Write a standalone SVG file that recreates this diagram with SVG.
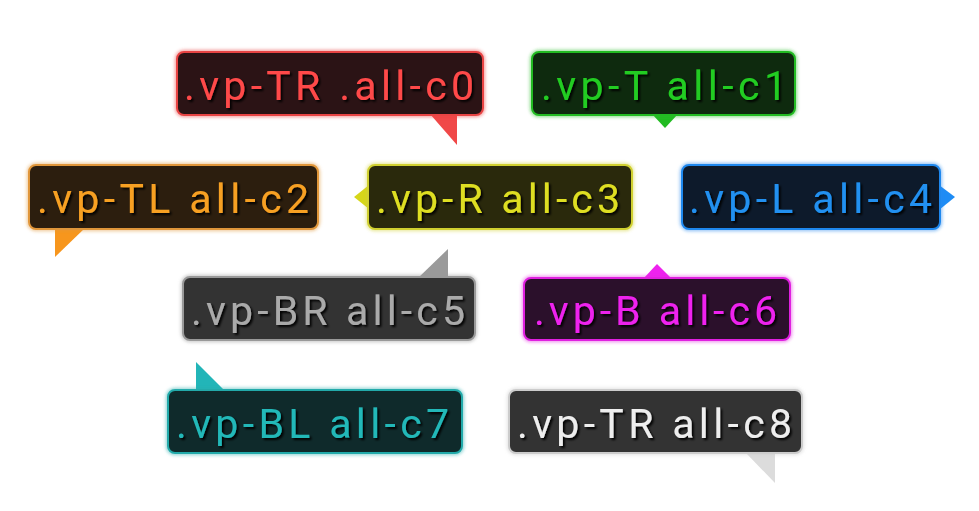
<svg xmlns="http://www.w3.org/2000/svg" width="979" height="511" viewBox="0 0 979 511">
<defs>
<filter id="ts" x="-10%" y="-30%" width="120%" height="160%">
<feDropShadow dx="2" dy="2" stdDeviation="1.2" flood-color="#000" flood-opacity="0.95"/>
</filter>
<filter id="glow" x="-10%" y="-20%" width="120%" height="140%">
<feGaussianBlur stdDeviation="1.5"/>
</filter>
</defs>
<style>
.lbl{font-family:Roboto,"Liberation Sans",sans-serif;font-size:41px;filter:url(#ts)}
.halo{fill:none;stroke-width:5;stroke-opacity:0.45;filter:url(#glow)}
.box{stroke-width:2}
</style>
<rect width="979" height="511" fill="#fff"/>
<g id="connectors"></g>

<g id="c0">
<polygon points="430,114 457,114 457,145" fill="#f04848"/>
<rect class="halo" x="177" y="52" width="306" height="63" rx="7" stroke="#e84444"/>
<rect class="box" x="177" y="52" width="306" height="63" rx="7" fill="#2b1315" stroke="#e84444"/>
<text class="lbl" x="184" y="100" fill="#ff4a4a" textLength="290" lengthAdjust="spacing">.vp-TR .all-c0</text>
</g>

<g id="c1">
<polygon points="652,114 678,114 665,128" fill="#22bb22"/>
<rect class="halo" x="532" y="52" width="263" height="63" rx="7" stroke="#22bb22"/>
<rect class="box" x="532" y="52" width="263" height="63" rx="7" fill="#0e2a0e" stroke="#22bb22"/>
<text class="lbl" x="541" y="100" fill="#22cc22" textLength="246" lengthAdjust="spacing">.vp-T all-c1</text>
</g>

<g id="c2">
<polygon points="55,228 85,228 55,257" fill="#f7961d"/>
<rect class="halo" x="29" y="165" width="289" height="64" rx="7" stroke="#e0963a"/>
<rect class="box" x="29" y="165" width="289" height="64" rx="7" fill="#2c1e0e" stroke="#e0963a"/>
<text class="lbl" x="37" y="213" fill="#f7a024" textLength="272" lengthAdjust="spacing">.vp-TL all-c2</text>
</g>

<g id="c3">
<polygon points="369,185 369,209 354,197" fill="#d6d61a"/>
<rect class="halo" x="368" y="165" width="264" height="64" rx="7" stroke="#d0d030"/>
<rect class="box" x="368" y="165" width="264" height="64" rx="7" fill="#2a290c" stroke="#d0d030"/>
<text class="lbl" x="376" y="213" fill="#dede22" textLength="244" lengthAdjust="spacing">.vp-R all-c3</text>
</g>

<g id="c4">
<polygon points="939,185 939,210 955,197" fill="#1e8cf5"/>
<rect class="halo" x="682" y="165" width="258" height="64" rx="7" stroke="#1e88ee"/>
<rect class="box" x="682" y="165" width="258" height="64" rx="7" fill="#0d1a2b" stroke="#1e88ee"/>
<text class="lbl" x="689" y="213" fill="#2090f0" textLength="243" lengthAdjust="spacing">.vp-L all-c4</text>
</g>

<g id="c5">
<polygon points="418,278 448,278 448,249" fill="#9a9a9a"/>
<rect class="halo" x="183" y="277" width="292" height="63" rx="7" stroke="#999"/>
<rect class="box" x="183" y="277" width="292" height="63" rx="7" fill="#333" stroke="#999"/>
<text class="lbl" x="191" y="325" fill="#aaa" textLength="274" lengthAdjust="spacing">.vp-BR all-c5</text>
</g>

<g id="c6">
<polygon points="643,279 672,279 657,264" fill="#ee22ee"/>
<rect class="halo" x="524" y="278" width="266" height="62" rx="7" stroke="#e020e0"/>
<rect class="box" x="524" y="278" width="266" height="62" rx="7" fill="#2b102b" stroke="#e020e0"/>
<text class="lbl" x="534" y="325" fill="#ee22ee" textLength="243" lengthAdjust="spacing">.vp-B all-c6</text>
</g>

<g id="c7">
<polygon points="196,391 225,391 196,362" fill="#22b5b8"/>
<rect class="halo" x="168" y="390" width="294" height="63" rx="7" stroke="#22aaaa"/>
<rect class="box" x="168" y="390" width="294" height="63" rx="7" fill="#0f2a2b" stroke="#22aaaa"/>
<text class="lbl" x="176" y="438" fill="#22b8b8" textLength="273" lengthAdjust="spacing">.vp-BL all-c7</text>
</g>

<g id="c8">
<polygon points="745,452 775,452 775,483" fill="#dcdcdc"/>
<rect class="halo" x="509" y="390" width="293" height="63" rx="7" stroke="#ccc"/>
<rect class="box" x="509" y="390" width="293" height="63" rx="7" fill="#333" stroke="#ccc"/>
<text class="lbl" x="517" y="438" fill="#eee" textLength="275" lengthAdjust="spacing">.vp-TR all-c8</text>
</g>
</svg>
